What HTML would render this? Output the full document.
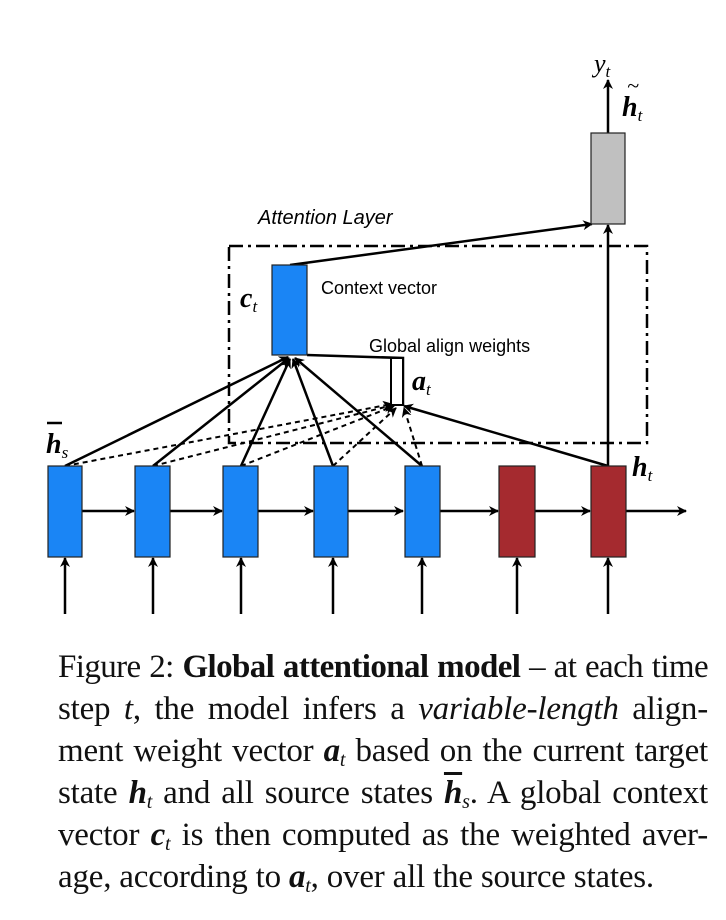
<!DOCTYPE html>
<html><head><meta charset="utf-8"><style>
body{margin:0;background:#fff;width:726px;height:920px;overflow:hidden;position:relative}
svg{position:absolute;left:0;top:0}
.cap{position:absolute;left:58px;width:650px;font-family:"Liberation Serif",serif;font-size:33px;letter-spacing:-0.2px;color:#111}
.ln{height:42px;line-height:42px;text-align:justify;text-align-last:justify;white-space:nowrap;overflow:visible}
.m{font-family:"Liberation Serif",serif;font-style:italic;font-weight:bold}
sub{font-size:20px;font-style:italic;font-weight:normal;vertical-align:-5px;line-height:0}
</style></head><body>
<svg width="726" height="620" viewBox="0 0 726 620">
<defs><marker id="a" markerWidth="10" markerHeight="10" refX="9" refY="5" orient="auto" markerUnits="userSpaceOnUse"><path d="M0,0 L10,5 L0,10 L3,5 Z" fill="#000"/></marker></defs>
<g font-family="Liberation Serif,serif" font-style="italic">
<text x="594" y="72" font-size="26">y<tspan font-size="17" dy="5">t</tspan></text>
<text x="622" y="116" font-size="28" font-weight="bold">h<tspan font-size="17" dy="5" font-weight="normal">t</tspan></text>
<text x="627" y="93" font-size="22">~</text>
<text x="240" y="307" font-size="28" font-weight="bold">c<tspan font-size="17" dy="5" font-weight="normal">t</tspan></text>
<text x="412" y="390" font-size="28" font-weight="bold">a<tspan font-size="17" dy="5" font-weight="normal">t</tspan></text>
<text x="46" y="453" font-size="28" font-weight="bold">h<tspan font-size="17" dy="5" font-weight="normal">s</tspan></text>
<line x1="47" y1="423" x2="62" y2="423" stroke="#000" stroke-width="2.5"/>
<text x="632" y="476" font-size="28" font-weight="bold">h<tspan font-size="17" dy="5" font-weight="normal">t</tspan></text>
</g>
<g font-family="Liberation Sans,sans-serif" font-size="18">
<text x="258" y="224" font-style="italic" font-size="20">Attention Layer</text>
<text x="321" y="294">Context vector</text>
<text x="369" y="352">Global align weights</text>
</g>
<rect x="229" y="246" width="418" height="197" fill="none" stroke="#000" stroke-width="2.5" stroke-dasharray="14,5,3,5"/>
<g stroke="#000" stroke-width="2.5" fill="none">
<line x1="608" y1="133" x2="608" y2="80" marker-end="url(#a)"/>
<line x1="608" y1="466" x2="608" y2="225" marker-end="url(#a)"/>
<line x1="290" y1="265" x2="592" y2="224" marker-end="url(#a)"/>
<polyline points="307,355 403,358 403,405"/>
<g marker-end="url(#a)">
<line x1="65" y1="466" x2="288" y2="357"/>
<line x1="153" y1="466" x2="289" y2="358"/>
<line x1="241" y1="466" x2="290" y2="359"/>
<line x1="333" y1="466" x2="293" y2="359"/>
<line x1="422" y1="466" x2="295" y2="358"/>
<line x1="608" y1="466" x2="404" y2="406"/>
</g>
<g stroke-dasharray="5,4" marker-end="url(#a)" stroke-width="2">
<line x1="65" y1="466" x2="392" y2="404"/>
<line x1="153" y1="466" x2="393" y2="405"/>
<line x1="241" y1="466" x2="394" y2="406"/>
<line x1="333" y1="466" x2="396" y2="408"/>
<line x1="422" y1="466" x2="404" y2="408"/>
</g>
<g marker-end="url(#a)">
<line x1="82" y1="511" x2="134" y2="511"/>
<line x1="170" y1="511" x2="222" y2="511"/>
<line x1="258" y1="511" x2="313" y2="511"/>
<line x1="348" y1="511" x2="403" y2="511"/>
<line x1="440" y1="511" x2="498" y2="511"/>
<line x1="535" y1="511" x2="590" y2="511"/>
<line x1="626" y1="511" x2="686" y2="511"/>
<line x1="65" y1="614" x2="65" y2="558"/>
<line x1="153" y1="614" x2="153" y2="558"/>
<line x1="241" y1="614" x2="241" y2="558"/>
<line x1="333" y1="614" x2="333" y2="558"/>
<line x1="422" y1="614" x2="422" y2="558"/>
<line x1="517" y1="614" x2="517" y2="558"/>
<line x1="608" y1="614" x2="608" y2="558"/>
</g>
</g>
<g stroke="#222" stroke-width="1.2">
<rect x="591" y="133" width="34" height="91" fill="#c0c0c0"/>
<rect x="272" y="265" width="35" height="90" fill="#1a85f5"/>
<rect x="391" y="358" width="12" height="47" fill="#fff" stroke="#000" stroke-width="2"/>
<rect x="48" y="466" width="34" height="91" fill="#1a85f5"/>
<rect x="135" y="466" width="35" height="91" fill="#1a85f5"/>
<rect x="223" y="466" width="35" height="91" fill="#1a85f5"/>
<rect x="314" y="466" width="34" height="91" fill="#1a85f5"/>
<rect x="405" y="466" width="35" height="91" fill="#1a85f5"/>
<rect x="499" y="466" width="36" height="91" fill="#a52a2f"/>
<rect x="591" y="466" width="35" height="91" fill="#a52a2f"/>
</g>
</svg>
<div class="cap" style="top:646px">
<div class="ln" style="letter-spacing:-0.6px;word-spacing:-1px">Figure 2: <b>Global attentional model</b> – at each time</div>
<div class="ln">step <i>t</i>, the model infers a <i>variable-length</i> align-</div>
<div class="ln">ment weight vector <span class="m">a</span><sub>t</sub> based on the current target</div>
<div class="ln">state <span class="m">h</span><sub>t</sub> and all source states <span class="m" style="text-decoration:overline">h</span><sub>s</sub>. A global context</div>
<div class="ln">vector <span class="m">c</span><sub>t</sub> is then computed as the weighted aver-</div>
<div class="ln" style="text-align-last:left">age, according to <span class="m">a</span><sub>t</sub>, over all the source states.</div>
</div>
</body></html>
